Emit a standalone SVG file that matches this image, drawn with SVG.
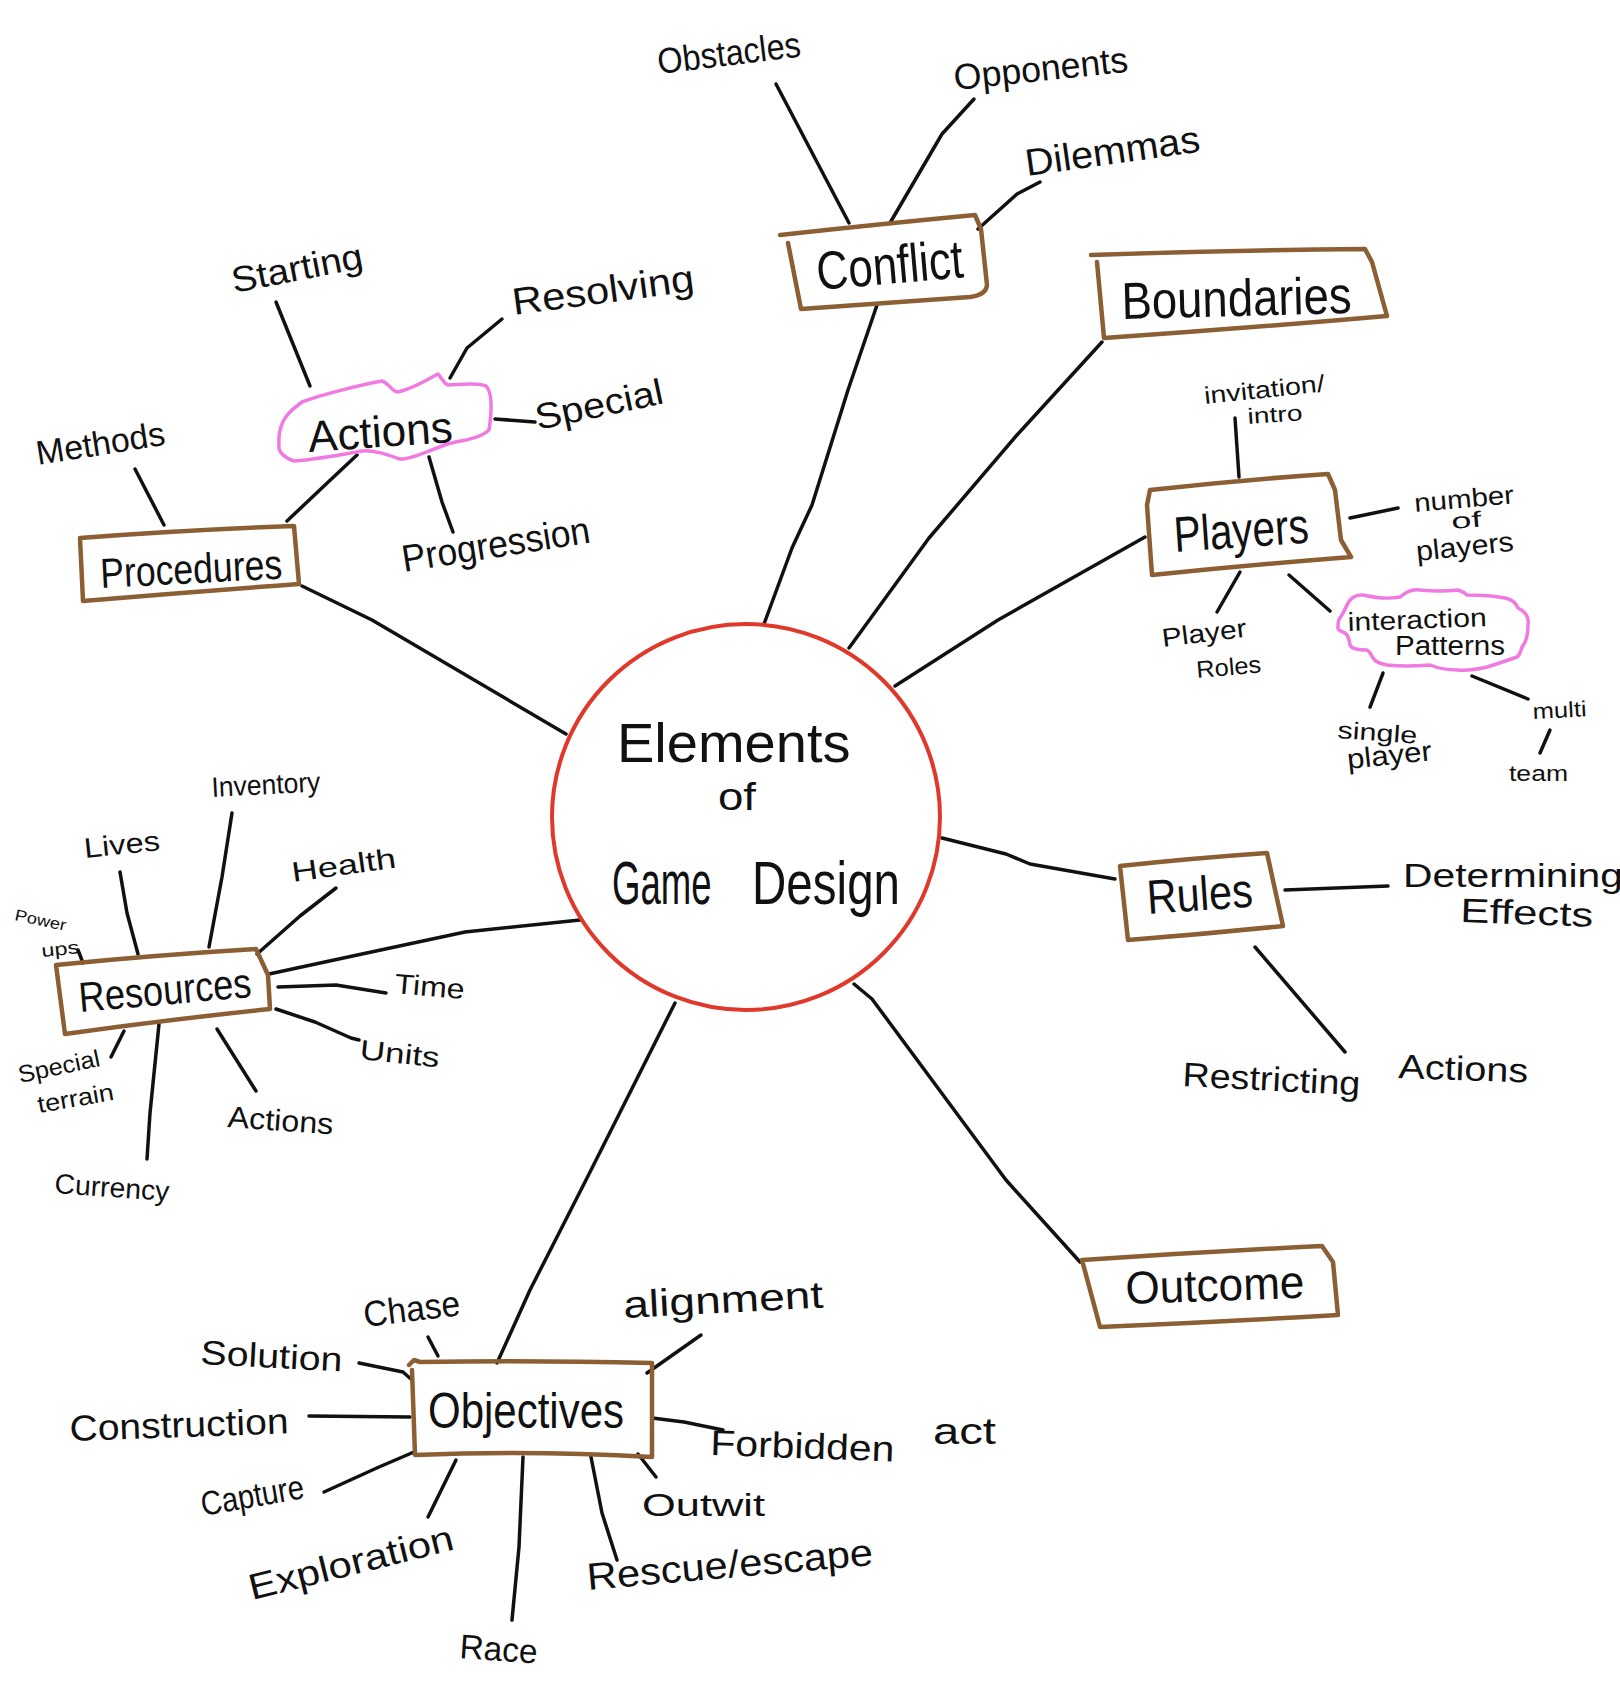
<svg xmlns="http://www.w3.org/2000/svg" width="1620" height="1684" viewBox="0 0 1620 1684">
<style>
.bg{fill:#ffffff}
.ln{fill:none;stroke:#111;stroke-width:3.5;stroke-linecap:round;stroke-linejoin:round}
.box{fill:none;stroke:#8c5e34;stroke-width:4.5;stroke-linecap:round;stroke-linejoin:round}
.cloud{fill:none;stroke:#f07ae2;stroke-width:3.5;stroke-linecap:round;stroke-linejoin:round}
.hub{fill:none;stroke:#e0392b;stroke-width:4}
text{font-family:"Liberation Sans","DejaVu Sans",Arial,sans-serif;fill:#111}
</style>
<rect class="bg" x="0" y="0" width="1620" height="1684"/>

<g id="connectors">
  <path class="ln" d="M764,624 L792,548 L812,505 L848,390 L877,305"/>
  <path class="ln" d="M849,648 L929,538 L1017,435 L1102,342"/>
  <path class="ln" d="M895,686 L998,620 L1145,537"/>
  <path class="ln" d="M942,838 L1006,854 L1030,864 L1115,879"/>
  <path class="ln" d="M854,984 L872,999 L1006,1180 L1080,1262"/>
  <path class="ln" d="M675,1003 L586,1180 L530,1290 L497,1363"/>
  <path class="ln" d="M580,920 L465,932 L362,954 L269,974"/>
  <path class="ln" d="M566,734 L372,620 L302,586"/>
  <path class="ln" d="M776,84 L849,223"/>
  <path class="ln" d="M974,99 L942,134 L890,223"/>
  <path class="ln" d="M1040,182 L1017,194 L978,229"/>
  <path class="ln" d="M135,469 L164,525"/>
  <path class="ln" d="M287,521 L324,486 L357,455"/>
  <path class="ln" d="M276,302 L310,386"/>
  <path class="ln" d="M502,319 L467,348 L450,378"/>
  <path class="ln" d="M495,419 L535,422"/>
  <path class="ln" d="M429,457 L442,502 L453,532"/>
  <path class="ln" d="M1235,418 L1239,477"/>
  <path class="ln" d="M1350,518 L1398,508"/>
  <path class="ln" d="M1240,572 L1217,612"/>
  <path class="ln" d="M1289,575 L1330,611"/>
  <path class="ln" d="M1383,673 L1370,707"/>
  <path class="ln" d="M1472,676 L1528,699"/>
  <path class="ln" d="M1550,730 L1540,753"/>
  <path class="ln" d="M1285,890 L1388,886"/>
  <path class="ln" d="M1255,947 L1345,1052"/>
  <path class="ln" d="M78,950 L83,963"/>
  <path class="ln" d="M120,872 L127,913 L138,954"/>
  <path class="ln" d="M232,813 L222,877 L209,947"/>
  <path class="ln" d="M336,888 L300,916 L257,954"/>
  <path class="ln" d="M278,987 L336,985 L386,993"/>
  <path class="ln" d="M276,1009 L315,1022 L351,1038 L359,1040"/>
  <path class="ln" d="M217,1029 L256,1091"/>
  <path class="ln" d="M159,1024 L150,1113 L147,1159"/>
  <path class="ln" d="M124,1031 L111,1057"/>
  <path class="ln" d="M428,1337 L438,1356"/>
  <path class="ln" d="M359,1363 L403,1372 L412,1380"/>
  <path class="ln" d="M309,1416 L410,1417"/>
  <path class="ln" d="M324,1492 L379,1467 L414,1452"/>
  <path class="ln" d="M456,1460 L428,1517"/>
  <path class="ln" d="M523,1457 L519,1547 L512,1620"/>
  <path class="ln" d="M591,1457 L602,1513 L617,1560"/>
  <path class="ln" d="M638,1454 L656,1477"/>
  <path class="ln" d="M652,1418 L684,1422 L723,1430"/>
  <path class="ln" d="M701,1335 L647,1373"/>
</g>

<g id="hub">
  <ellipse class="hub" cx="746" cy="817" rx="194" ry="193"/>
  <text transform="translate(617,762) scale(1.0,1)" font-size="56">Elements</text>
  <text transform="translate(718,810) scale(1.2,1)" font-size="38">of</text>
  <text transform="translate(612,904) scale(0.59,1)" font-size="62">Game</text>
  <text transform="translate(752,904) scale(0.767,1)" font-size="62">Design</text>
</g>

<g id="conflict">
  <path class="box" d="M780,235 Q880,224 975,215 L981,229 L987,285 Q986,295 970,297 L801,309 L788,243"/>
  <text x="818" y="290" font-size="54" textLength="147" lengthAdjust="spacingAndGlyphs" transform="rotate(-5 818 290)">Conflict</text>
</g>
<g id="obstacles"><text x="659" y="74" font-size="36" textLength="144" lengthAdjust="spacingAndGlyphs" transform="rotate(-7 659 74)">Obstacles</text></g>
<g id="opponents"><text x="955" y="90" font-size="36" textLength="175" lengthAdjust="spacingAndGlyphs" transform="rotate(-6 955 90)">Opponents</text></g>
<g id="dilemmas"><text x="1027" y="176" font-size="38" textLength="176" lengthAdjust="spacingAndGlyphs" transform="rotate(-8 1027 176)">Dilemmas</text></g>

<g id="boundaries">
  <path class="box" d="M1091,255 Q1230,250 1365,249 L1372,262 L1387,316 Q1250,328 1104,338 L1097,262"/>
  <text x="1122" y="319" font-size="52" textLength="230" lengthAdjust="spacingAndGlyphs" transform="rotate(-1.5 1122 319)">Boundaries</text>
</g>

<g id="players">
  <path class="box" d="M1150,490 Q1240,480 1328,474 L1335,490 L1341,540 L1351,557 Q1250,565 1152,575 L1147,505 L1150,490"/>
  <text x="1175" y="552" font-size="50" textLength="135" lengthAdjust="spacingAndGlyphs" transform="rotate(-4 1175 552)">Players</text>
</g>
<g id="invitation">
  <text x="1205" y="404" font-size="24" textLength="121" lengthAdjust="spacingAndGlyphs" transform="rotate(-6 1205 404)">invitation/</text>
  <text x="1248" y="424" font-size="22" textLength="55" lengthAdjust="spacingAndGlyphs" transform="rotate(-4 1248 424)">intro</text>
</g>
<g id="number-of-players">
  <text x="1415" y="512" font-size="26" textLength="100" lengthAdjust="spacingAndGlyphs" transform="rotate(-5 1415 512)">number</text>
  <text x="1452" y="529" font-size="22" textLength="30" lengthAdjust="spacingAndGlyphs" transform="rotate(-5 1452 529)">of</text>
  <text x="1417" y="561" font-size="28" textLength="98" lengthAdjust="spacingAndGlyphs" transform="rotate(-6 1417 561)">players</text>
</g>
<g id="player-roles">
  <text x="1163" y="647" font-size="26" textLength="85" lengthAdjust="spacingAndGlyphs" transform="rotate(-7 1163 647)">Player</text>
  <text x="1197" y="678" font-size="24" textLength="65" lengthAdjust="spacingAndGlyphs" transform="rotate(-5 1197 678)">Roles</text>
</g>
<g id="interaction-patterns">
  <path class="cloud" d="M1347,605 Q1352,594 1363,595 Q1385,600 1400,597 Q1410,588 1420,590 Q1440,592 1458,590 Q1464,592 1467,595 Q1490,595 1505,598 Q1515,600 1518,608 Q1530,614 1528,625 Q1528,640 1522,647 Q1520,655 1517,657 Q1500,663 1487,667 Q1470,671 1458,670 Q1442,670 1430,665 Q1405,667 1387,665 Q1376,663 1373,658 Q1370,652 1367,650 Q1352,650 1350,645 Q1349,636 1345,633 Q1337,630 1338,627 Q1338,620 1340,618 Q1344,612 1347,605 Z"/>
  <text x="1348" y="631" font-size="26" textLength="139" lengthAdjust="spacingAndGlyphs" transform="rotate(-2 1348 631)">interaction</text>
  <text x="1395" y="655" font-size="27" textLength="110" lengthAdjust="spacingAndGlyphs">Patterns</text>
</g>
<g id="single-player">
  <text x="1337" y="738" font-size="24" textLength="80" lengthAdjust="spacingAndGlyphs" transform="rotate(4 1337 738)">single</text>
  <text x="1348" y="769" font-size="28" textLength="85" lengthAdjust="spacingAndGlyphs" transform="rotate(-6 1348 769)">player</text>
</g>
<g id="multi"><text x="1533" y="719" font-size="22" textLength="54" lengthAdjust="spacingAndGlyphs" transform="rotate(-3 1533 719)">multi</text></g>
<g id="team"><text x="1509" y="781" font-size="22" textLength="59" lengthAdjust="spacingAndGlyphs">team</text></g>

<g id="rules">
  <path class="box" d="M1120,866 Q1195,858 1267,853 L1283,926 Q1205,934 1128,940 Z"/>
  <text x="1148" y="914" font-size="48" textLength="106" lengthAdjust="spacingAndGlyphs" transform="rotate(-4 1148 914)">Rules</text>
</g>
<g id="determining-effects">
  <text x="1403" y="887" font-size="34" textLength="220" lengthAdjust="spacingAndGlyphs">Determining</text>
  <text x="1460" y="922" font-size="34" textLength="133" lengthAdjust="spacingAndGlyphs" transform="rotate(2 1460 922)">Effects</text>
</g>
<g id="restricting-actions">
  <text x="1182" y="1086" font-size="34" textLength="178" lengthAdjust="spacingAndGlyphs" transform="rotate(3 1182 1086)">Restricting</text>
  <text x="1398" y="1078" font-size="34" textLength="130" lengthAdjust="spacingAndGlyphs" transform="rotate(2 1398 1078)">Actions</text>
</g>

<g id="outcome">
  <path class="box" d="M1082,1260 Q1200,1252 1322,1246 L1333,1262 L1338,1315 Q1220,1322 1100,1327 Z"/>
  <text x="1126" y="1304" font-size="46" textLength="179" lengthAdjust="spacingAndGlyphs" transform="rotate(-2 1126 1304)">Outcome</text>
</g>

<g id="objectives">
  <path class="box" d="M409,1365 L414,1360 L420,1362 Q530,1360 652,1363 L652,1457 Q530,1450 415,1455 L412,1370"/>
  <text x="428" y="1428" font-size="50" textLength="196" lengthAdjust="spacingAndGlyphs">Objectives</text>
</g>
<g id="chase"><text x="365" y="1327" font-size="36" textLength="97" lengthAdjust="spacingAndGlyphs" transform="rotate(-7 365 1327)">Chase</text></g>
<g id="solution"><text x="200" y="1364" font-size="34" textLength="142" lengthAdjust="spacingAndGlyphs" transform="rotate(3 200 1364)">Solution</text></g>
<g id="alignment"><text x="624" y="1318" font-size="38" textLength="200" lengthAdjust="spacingAndGlyphs" transform="rotate(-3 624 1318)">alignment</text></g>
<g id="construction"><text x="70" y="1441" font-size="36" textLength="219" lengthAdjust="spacingAndGlyphs" transform="rotate(-2 70 1441)">Construction</text></g>
<g id="capture"><text x="203" y="1516" font-size="34" textLength="104" lengthAdjust="spacingAndGlyphs" transform="rotate(-10 203 1516)">Capture</text></g>
<g id="exploration"><text x="252" y="1600" font-size="36" textLength="210" lengthAdjust="spacingAndGlyphs" transform="rotate(-14 252 1600)">Exploration</text></g>
<g id="race"><text x="459" y="1658" font-size="34" textLength="78" lengthAdjust="spacingAndGlyphs" transform="rotate(4 459 1658)">Race</text></g>
<g id="rescue-escape"><text x="588" y="1590" font-size="38" textLength="287" lengthAdjust="spacingAndGlyphs" transform="rotate(-5 588 1590)">Rescue/escape</text></g>
<g id="outwit"><text x="642" y="1516" font-size="32" textLength="123" lengthAdjust="spacingAndGlyphs">Outwit</text></g>
<g id="forbidden-act">
  <text x="710" y="1455" font-size="36" textLength="184" lengthAdjust="spacingAndGlyphs" transform="rotate(2 710 1455)">Forbidden</text>
  <text x="933" y="1444" font-size="36" textLength="63" lengthAdjust="spacingAndGlyphs">act</text>
</g>

<g id="resources">
  <path class="box" d="M56,965 Q155,955 256,949 L268,975 L270,1009 Q165,1020 65,1034 Z"/>
  <text x="80" y="1012" font-size="42" textLength="173" lengthAdjust="spacingAndGlyphs" transform="rotate(-5 80 1012)">Resources</text>
</g>
<g id="power-ups">
  <text x="14" y="920" font-size="16" textLength="52" lengthAdjust="spacingAndGlyphs" transform="rotate(12 14 920)">Power</text>
  <text x="42" y="957" font-size="18" textLength="38" lengthAdjust="spacingAndGlyphs" transform="rotate(-6 42 957)">ups</text>
</g>
<g id="lives"><text x="85" y="858" font-size="28" textLength="76" lengthAdjust="spacingAndGlyphs" transform="rotate(-6 85 858)">Lives</text></g>
<g id="inventory"><text x="212" y="797" font-size="28" textLength="109" lengthAdjust="spacingAndGlyphs" transform="rotate(-3 212 797)">Inventory</text></g>
<g id="health"><text x="293" y="882" font-size="28" textLength="105" lengthAdjust="spacingAndGlyphs" transform="rotate(-8 293 882)">Health</text></g>
<g id="time"><text x="394" y="993" font-size="28" textLength="70" lengthAdjust="spacingAndGlyphs" transform="rotate(5 394 993)">Time</text></g>
<g id="units"><text x="359" y="1059" font-size="28" textLength="80" lengthAdjust="spacingAndGlyphs" transform="rotate(6 359 1059)">Units</text></g>
<g id="res-actions"><text x="227" y="1127" font-size="30" textLength="106" lengthAdjust="spacingAndGlyphs" transform="rotate(4 227 1127)">Actions</text></g>
<g id="currency"><text x="54" y="1193" font-size="28" textLength="115" lengthAdjust="spacingAndGlyphs" transform="rotate(4 54 1193)">Currency</text></g>
<g id="special-terrain">
  <text x="20" y="1083" font-size="24" textLength="83" lengthAdjust="spacingAndGlyphs" transform="rotate(-12 20 1083)">Special</text>
  <text x="39" y="1113" font-size="24" textLength="77" lengthAdjust="spacingAndGlyphs" transform="rotate(-10 39 1113)">terrain</text>
</g>

<g id="procedures">
  <path class="box" d="M80,538 Q185,530 294,526 L299,584 Q190,592 83,601 Z"/>
  <text x="101" y="588" font-size="42" textLength="182" lengthAdjust="spacingAndGlyphs" transform="rotate(-3 101 588)">Procedures</text>
</g>
<g id="methods"><text x="38" y="465" font-size="34" textLength="130" lengthAdjust="spacingAndGlyphs" transform="rotate(-9 38 465)">Methods</text></g>
<g id="actions">
  <path class="cloud" d="M302,402 C320,395 360,385 382,381 C390,384 392,392 398,392 C415,388 430,378 438,374 C442,378 443,383 448,385 C465,384 478,383 486,386 C492,392 492,410 489,430 C478,440 460,440 448,444 C430,450 410,460 400,459 C388,455 375,450 362,451 C340,455 310,460 294,461 C285,458 278,452 279,446 C278,432 282,420 290,412 C294,408 298,405 302,402 Z"/>
  <text x="309" y="452" font-size="44" textLength="145" lengthAdjust="spacingAndGlyphs" transform="rotate(-4 309 452)">Actions</text>
</g>
<g id="starting"><text x="234" y="293" font-size="36" textLength="133" lengthAdjust="spacingAndGlyphs" transform="rotate(-11 234 293)">Starting</text></g>
<g id="resolving"><text x="514" y="315" font-size="38" textLength="183" lengthAdjust="spacingAndGlyphs" transform="rotate(-7.6 514 315)">Resolving</text></g>
<g id="special"><text x="538" y="430" font-size="36" textLength="130" lengthAdjust="spacingAndGlyphs" transform="rotate(-12 538 430)">Special</text></g>
<g id="progression"><text x="404" y="572" font-size="38" textLength="190" lengthAdjust="spacingAndGlyphs" transform="rotate(-9 404 572)">Progression</text></g>
</svg>
